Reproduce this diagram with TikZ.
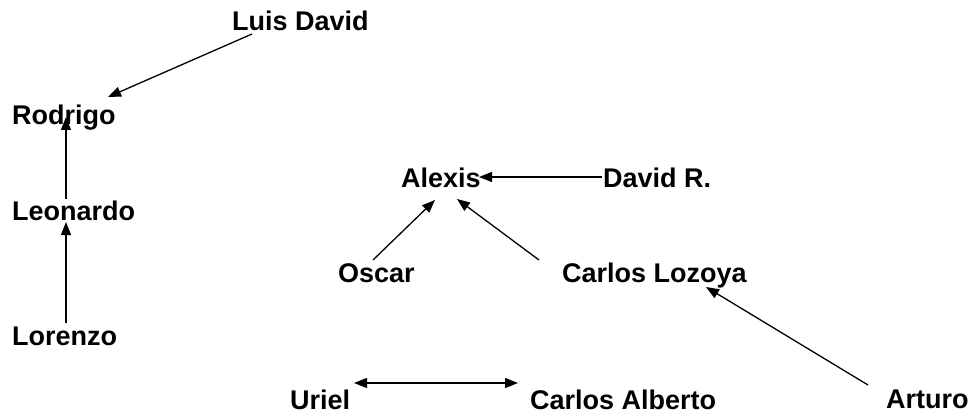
\documentclass[tikz,border=0pt]{standalone}
\usepackage{fontspec}
\setmainfont{Liberation Sans}
\usetikzlibrary{arrows.meta}
\begin{document}
\begin{tikzpicture}[x=1pt,y=-1pt,
  person/.style={anchor=base west,inner sep=0pt,font=\fontsize{27}{32}\selectfont\bfseries},
  arr/.style={line width=1.3pt,-{Triangle[length=13pt,width=10pt]}},
  darr/.style={line width=1.3pt,{Triangle[length=13pt,width=10pt]}-{Triangle[length=13pt,width=10pt]}}]
\useasboundingbox (0,0) rectangle (975,417);
\node[person] (ld) at (232,31) {Luis David};
\node[person] (ro) at (12,125) {Rodrigo};
\node[person] (le) at (12,220) {Leonardo};
\node[person] (lz) at (12,345) {Lorenzo};
\node[person] (al) at (401,188) {Alexis};
\node[person] (dr) at (603,188) {David R.};
\node[person] (os) at (338,282) {Oscar};
\node[person] (cl) at (562,282) {Carlos Lozoya};
\node[person] (ur) at (290,409) {Uriel};
\node[person] (ca) at (530,409) {Carlos Alberto};
\node[person] (ar) at (886,408) {Arturo};
\draw[arr] ([shift={(20,3)}]ld.base west) -- ([shift={(96,-28)}]ro.base west);
\draw[arr] ([shift={(54,-21)}]le.base west) -- ([shift={(54,-8)}]ro.base west);
\draw[arr] ([shift={(54,-22)}]lz.base west) -- ([shift={(54,2)}]le.base west);
\draw[arr] ([shift={(-1,-11)}]dr.base west) -- ([shift={(78,-11)}]al.base west);
\draw[arr] ([shift={(35,-22)}]os.base west) -- ([shift={(34,12)}]al.base west);
\draw[arr] ([shift={(-23,-22)}]cl.base west) -- ([shift={(56,11)}]al.base west);
\draw[arr] ([shift={(-18,-23)}]ar.base west) -- ([shift={(144,5)}]cl.base west);
\draw[darr] ([shift={(64,-26)}]ur.base west) -- ([shift={(-12,-26)}]ca.base west);
\end{tikzpicture}
\end{document}
